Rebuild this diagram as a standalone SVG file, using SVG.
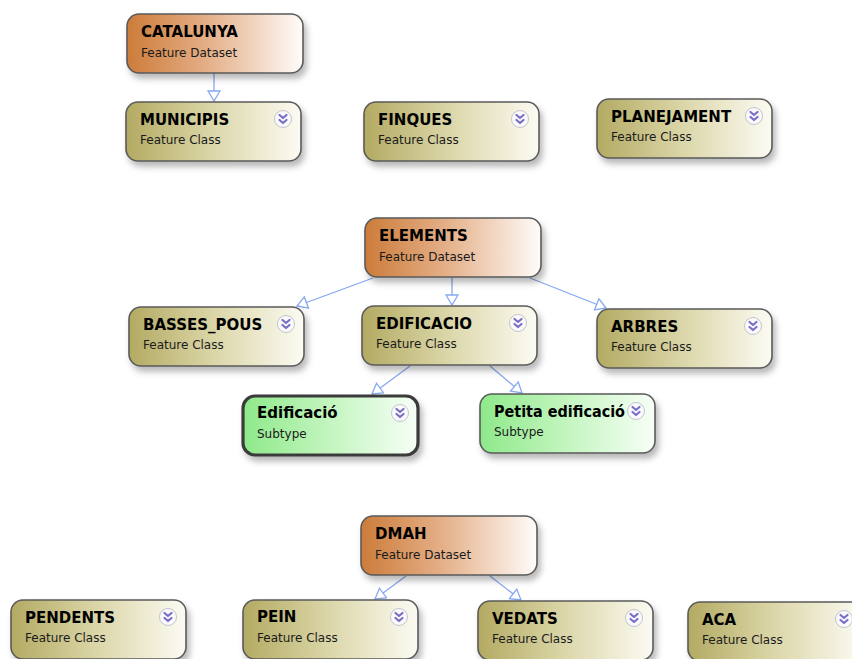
<svg xmlns="http://www.w3.org/2000/svg" width="852" height="659" viewBox="0 0 852 659">
<style>
.box{stroke:#5a5a5a;stroke-width:1.6}
.ds{fill:url(#gDs)}
.fc{fill:url(#gFc)}
.st{fill:url(#gSt)}
.sel{stroke:#3a3a3a;stroke-width:3.2}
.t{font-family:"DejaVu Sans",sans-serif;font-weight:bold;font-size:15px;fill:#000}
.s{font-family:"DejaVu Sans",sans-serif;font-size:12px;fill:#1a1a1a}
.con{stroke:#86a9ef;stroke-width:1.3;fill:none;marker-end:url(#arr)}
.ic circle{fill:#fafafc;stroke:#c4c4cc;stroke-width:1}
.ic path{fill:none;stroke:#7a6fc6;stroke-width:2.2;stroke-linecap:round;stroke-linejoin:round}
</style>
<defs>
<linearGradient id="gDs" x1="0" y1="0" x2="1" y2="0">
<stop offset="0" stop-color="#cc7c3a"/>
<stop offset="0.45" stop-color="#e4ae86"/>
<stop offset="1" stop-color="#fffcfa"/>
</linearGradient>
<linearGradient id="gFc" x1="0" y1="0" x2="1" y2="0">
<stop offset="0" stop-color="#b3aa62"/>
<stop offset="0.5" stop-color="#dcd7aa"/>
<stop offset="1" stop-color="#fcfbf3"/>
</linearGradient>
<linearGradient id="gSt" x1="0" y1="0" x2="1" y2="0">
<stop offset="0" stop-color="#8ee98a"/>
<stop offset="0.5" stop-color="#c4f5c0"/>
<stop offset="1" stop-color="#f7fff7"/>
</linearGradient>
<filter id="sh" x="-10%" y="-10%" width="130%" height="140%">
<feDropShadow dx="3" dy="5" stdDeviation="3" flood-color="#000" flood-opacity="0.28"/>
</filter>
<marker id="arr" markerUnits="userSpaceOnUse" markerWidth="14" markerHeight="14" viewBox="0 0 14 14" refX="12" refY="7" orient="auto">
<path d="M2,1 L12,7 L2,13 Z" fill="#fff" stroke="#86a9ef" stroke-width="1.3"/>
</marker>
<g id="icon" class="ic">
<circle cx="0" cy="0" r="8.5"/>
<path d="M-3.5,-4 L0,-1 L3.5,-4 M-3.5,1 L0,4 L3.5,1"/>
</g>
</defs>

<g id="connectors">
<line class="con" x1="214" y1="73" x2="214" y2="101"/>
<line class="con" x1="373" y1="278" x2="297" y2="306"/>
<line class="con" x1="452" y1="277" x2="452" y2="305"/>
<line class="con" x1="530" y1="278" x2="606" y2="308"/>
<line class="con" x1="410" y1="366" x2="372" y2="394"/>
<line class="con" x1="490" y1="366" x2="522" y2="393"/>
<line class="con" x1="406" y1="576" x2="375" y2="599"/>
<line class="con" x1="490" y1="576" x2="521" y2="600"/>
</g>

<g id="CATALUNYA">
<rect class="box ds" x="127" y="14" width="176" height="59" rx="12" filter="url(#sh)"/>
<text class="t" x="141" y="37">CATALUNYA</text>
<text class="s" x="141" y="56.5">Feature Dataset</text>
</g>
<g id="MUNICIPIS">
<rect class="box fc" x="126" y="102" width="175" height="59" rx="12" filter="url(#sh)"/>
<text class="t" x="140" y="125">MUNICIPIS</text>
<text class="s" x="140" y="143.5">Feature Class</text>
<use href="#icon" x="283" y="119"/>
</g>
<g id="FINQUES">
<rect class="box fc" x="364" y="102" width="175" height="59" rx="12" filter="url(#sh)"/>
<text class="t" x="378" y="125">FINQUES</text>
<text class="s" x="378" y="143.5">Feature Class</text>
<use href="#icon" x="520" y="119"/>
</g>
<g id="PLANEJAMENT">
<rect class="box fc" x="597" y="99" width="175" height="59" rx="12" filter="url(#sh)"/>
<text class="t" x="611" y="122">PLANEJAMENT</text>
<text class="s" x="611" y="140.5">Feature Class</text>
<use href="#icon" x="754" y="116"/>
</g>
<g id="ELEMENTS">
<rect class="box ds" x="365" y="218" width="176" height="59" rx="12" filter="url(#sh)"/>
<text class="t" x="379" y="241">ELEMENTS</text>
<text class="s" x="379" y="260.5">Feature Dataset</text>
</g>
<g id="BASSES_POUS">
<rect class="box fc" x="129" y="307" width="175" height="59" rx="12" filter="url(#sh)"/>
<text class="t" x="143" y="330">BASSES_POUS</text>
<text class="s" x="143" y="348.5">Feature Class</text>
<use href="#icon" x="286" y="324"/>
</g>
<g id="EDIFICACIO">
<rect class="box fc" x="362" y="306" width="175" height="59" rx="12" filter="url(#sh)"/>
<text class="t" x="376" y="329">EDIFICACIO</text>
<text class="s" x="376" y="347.5">Feature Class</text>
<use href="#icon" x="518" y="323"/>
</g>
<g id="ARBRES">
<rect class="box fc" x="597" y="309" width="175" height="59" rx="12" filter="url(#sh)"/>
<text class="t" x="611" y="332">ARBRES</text>
<text class="s" x="611" y="350.5">Feature Class</text>
<use href="#icon" x="753" y="326"/>
</g>
<g id="Edificacio_subtype">
<rect class="box st sel" x="243" y="396" width="175" height="59" rx="12" filter="url(#sh)"/>
<text class="t" x="257" y="418">Edificació</text>
<text class="s" x="257" y="437.5">Subtype</text>
<use href="#icon" x="400" y="413"/>
</g>
<g id="Petita_edificacio">
<rect class="box st" x="480" y="394" width="175" height="59" rx="12" filter="url(#sh)"/>
<text class="t" x="494" y="417" textLength="131" lengthAdjust="spacingAndGlyphs">Petita edificació</text>
<text class="s" x="494" y="436">Subtype</text>
<use href="#icon" x="636" y="411"/>
</g>
<g id="DMAH">
<rect class="box ds" x="361" y="516" width="176" height="59" rx="12" filter="url(#sh)"/>
<text class="t" x="375" y="539">DMAH</text>
<text class="s" x="375" y="558.5">Feature Dataset</text>
</g>
<g id="PENDENTS">
<rect class="box fc" x="11" y="600" width="175" height="59" rx="12" filter="url(#sh)"/>
<text class="t" x="25" y="623">PENDENTS</text>
<text class="s" x="25" y="641.5">Feature Class</text>
<use href="#icon" x="168" y="617"/>
</g>
<g id="PEIN">
<rect class="box fc" x="243" y="600" width="175" height="59" rx="12" filter="url(#sh)"/>
<text class="t" x="257" y="622">PEIN</text>
<text class="s" x="257" y="641.5">Feature Class</text>
<use href="#icon" x="399" y="617"/>
</g>
<g id="VEDATS">
<rect class="box fc" x="478" y="601" width="175" height="59" rx="12" filter="url(#sh)"/>
<text class="t" x="492" y="624">VEDATS</text>
<text class="s" x="492" y="642.5">Feature Class</text>
<use href="#icon" x="634" y="618"/>
</g>
<g id="ACA">
<rect class="box fc" x="688" y="602" width="175" height="59" rx="12" filter="url(#sh)"/>
<text class="t" x="702" y="625">ACA</text>
<text class="s" x="702" y="643.5">Feature Class</text>
<use href="#icon" x="844" y="619"/>
</g>
</svg>
